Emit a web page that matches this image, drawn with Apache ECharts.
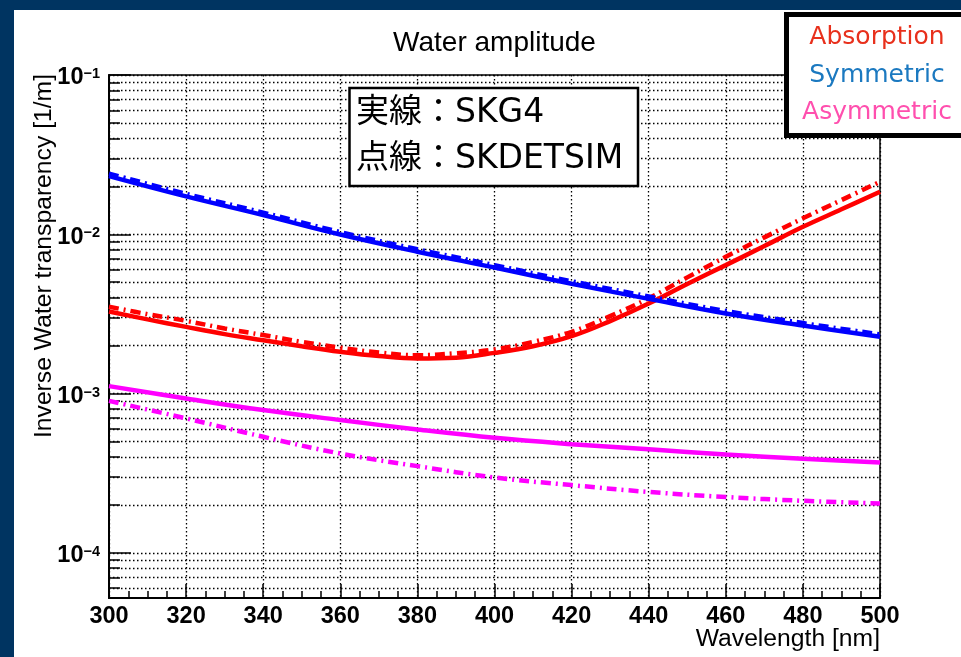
<!DOCTYPE html>
<html>
<head>
<meta charset="utf-8">
<script src="https://cdn.jsdelivr.net/npm/echarts@6/dist/echarts.min.js"></script>
<style>
  html, body { margin: 0; padding: 0; width: 961px; height: 657px; overflow: hidden; background: #003461; }
  #panel { position: absolute; left: 14px; top: 10px; width: 947px; height: 647px; background: #ffffff; }
  #chart { position: absolute; left: 0; top: 0; width: 961px; height: 657px; }
</style>
</head>
<body>
<div id="panel"></div>
<div id="chart"></div>
<script>
// Wavelength samples [nm]
const wl10 = [300, 310, 320, 330, 340, 350, 360, 370, 380, 390, 400, 410, 420, 430, 440, 450, 460, 470, 480, 490, 500];
const wl20 = [300, 320, 340, 360, 380, 400, 420, 440, 460, 480, 500];

// Inverse water transparency [1/m]; SKG4 = solid, SKDETSIM = dash-dot
const absorptionSKG4 = [0.00327, 0.00292, 0.00262, 0.00236, 0.00216, 0.00198, 0.00183, 0.00172, 0.00166, 0.00168, 0.00180,
                        0.00198, 0.00229, 0.00285, 0.00367, 0.00487, 0.00640, 0.00843, 0.01114, 0.01434, 0.01849];
const absorptionSKDETSIM = [0.00351, 0.00315, 0.00286, 0.00256, 0.00233, 0.00211, 0.00194, 0.00181, 0.00174, 0.00179, 0.00189,
                            0.00211, 0.00244, 0.00306, 0.00396, 0.00536, 0.00722, 0.00956, 0.01259, 0.01640, 0.02137];
const symmetricSKG4 = [0.02320, 0.01730, 0.01320, 0.00996, 0.00777, 0.00618, 0.00489, 0.00393, 0.00318, 0.00267, 0.00227];
const symmetricSKDETSIM = [0.02405, 0.01794, 0.01368, 0.01032, 0.00805, 0.00640, 0.00507, 0.00407, 0.00330, 0.00277, 0.00235];
const asymmetricSKG4 = [0.001113, 0.000931, 0.000787, 0.000681, 0.000595, 0.000527, 0.000481, 0.000446, 0.000414, 0.000389, 0.000369];
const asymmetricSKDETSIM = [0.000899, 0.000698, 0.000535, 0.000420, 0.000350, 0.000297, 0.000266, 0.000241, 0.000224, 0.000212, 0.000204];

// Axis ranges and tick definitions
const xRange = [300, 500];
const yRange = [5.2e-5, 0.1];
const yLabelDecades = [-4, -3, -2, -1];          // labelled powers of ten
const yMinorDecades = [-5, -4, -3, -2];          // decades holding minor ticks
const yMinorMantissas = [2, 3, 4, 5, 6, 7, 8, 9];

const legendNames = ['Absorption', 'Symmetric', 'Asymmetric'];
const legendColors = ['#e8301c', '#1b79c0', '#ff4fae'];
const noteLines = ['実線：SKG4', '点線：SKDETSIM'];

const logLo = Math.log10(yRange[0]);
const logHi = Math.log10(yRange[1]);
const minorTicks = [];
yMinorDecades.forEach(function (d) {
  yMinorMantissas.forEach(function (m) {
    const v = d + Math.log10(m);
    if (v >= logLo && v <= logHi) minorTicks.push(v);
  });
});

const dotted = { color: '#000', width: 1.3, type: [1.5, 2.5] };
const tickFont = { fontFamily: 'Liberation Sans', fontWeight: 'bold', color: '#000' };

function curve(name, xs, ys, color, dashed) {
  return {
    type: 'line', name: name, xAxisIndex: 0, yAxisIndex: 0,
    data: xs.map(function (x, i) { return [x, ys[i]]; }),
    smooth: 0.4, symbol: 'none', silent: true, z: 5,
    lineStyle: { color: color, width: 4.5, type: dashed ? [10, 5, 2, 5] : 'solid', cap: 'butt' }
  };
}

const chart = echarts.init(document.getElementById('chart'), null, { renderer: 'canvas' });
chart.setOption({
  animation: false,
  backgroundColor: 'transparent',
  grid: { left: 109, top: 75, right: 81, bottom: 59, show: true, borderColor: '#000', borderWidth: 1.5, backgroundColor: 'transparent' },
  xAxis: {
    type: 'value', min: xRange[0], max: xRange[1], interval: 20,
    axisLine: { show: true, onZero: false, lineStyle: { color: '#000', width: 2 } },
    axisTick: { show: true, inside: true, length: 14, lineStyle: { color: '#000', width: 1.5 } },
    minorTick: { show: true, splitNumber: 4, length: 7, lineStyle: { color: '#000', width: 1.5 } },
    splitLine: { show: true, lineStyle: dotted },
    axisLabel: Object.assign({ fontSize: 23.5, margin: 7 }, tickFont)
  },
  yAxis: [
    {
      type: 'log', logBase: 10, min: yRange[0], max: yRange[1], position: 'left',
      axisLine: { show: true, onZero: false, lineStyle: { color: '#000', width: 2 } },
      axisTick: { show: false }, axisLabel: { show: false }, splitLine: { show: false }
    },
    {
      type: 'value', min: logLo, max: logHi, position: 'left',
      axisLine: { show: false, onZero: false },
      axisTick: { show: true, inside: true, length: 22, customValues: yLabelDecades, lineStyle: { color: '#000', width: 1.5 } },
      splitLine: { show: true, lineStyle: dotted },
      axisLabel: {
        show: true, margin: 9, customValues: yLabelDecades, padding: [6, 0, 0, 0],
        formatter: function (v) { return '{b|10}{e|−' + Math.round(-v) + '}'; },
        rich: {
          b: Object.assign({ fontSize: 23.5, lineHeight: 23 }, tickFont),
          e: Object.assign({ fontSize: 14.5, lineHeight: 14, verticalAlign: 'top' }, tickFont)
        }
      }
    },
    {
      type: 'value', min: logLo, max: logHi, position: 'left',
      axisLine: { show: false, onZero: false },
      axisTick: { show: true, inside: true, length: 11, customValues: minorTicks, lineStyle: { color: '#000', width: 1.5 } },
      splitLine: { show: true, lineStyle: dotted },
      axisLabel: { show: false }
    }
  ],
  series: [
    curve('Absorption SKG4', wl10, absorptionSKG4, '#ff0000', false),
    curve('Absorption SKDETSIM', wl10, absorptionSKDETSIM, '#ff0000', true),
    curve('Symmetric SKG4', wl20, symmetricSKG4, '#0000ff', false),
    curve('Symmetric SKDETSIM', wl20, symmetricSKDETSIM, '#0000ff', true),
    curve('Asymmetric SKG4', wl20, asymmetricSKG4, '#ff00ff', false),
    curve('Asymmetric SKDETSIM', wl20, asymmetricSKDETSIM, '#ff00ff', true)
  ],
  graphic: [
    { type: 'text', x: 494.5, y: 43, z: 100, silent: true,
      style: { text: 'Water amplitude', fontFamily: 'Liberation Sans', fontSize: 28, fill: '#000', align: 'center', verticalAlign: 'middle' } },
    { type: 'text', x: 880, y: 639, z: 100, silent: true,
      style: { text: 'Wavelength [nm]', fontFamily: 'Liberation Sans', fontSize: 24.7, fill: '#000', align: 'right', verticalAlign: 'middle' } },
    { type: 'text', x: 44.3, y: 74, rotation: Math.PI / 2, z: 100, silent: true,
      style: { text: 'Inverse Water transparency [1/m]', fontFamily: 'Liberation Sans', fontSize: 24.7, fill: '#000', align: 'right', verticalAlign: 'middle' } },
    { type: 'group', z: 100, silent: true, children: [
      { type: 'rect', shape: { x: 349.5, y: 88, width: 288.5, height: 98 }, z: 100,
        style: { fill: '#fff', stroke: '#000', lineWidth: 2.5 } },
      { type: 'text', x: 356, y: 113, z: 101,
        style: { text: noteLines[0], fontFamily: "'DejaVu Sans', 'Noto Sans CJK JP'", fontSize: 33, fill: '#000', align: 'left', verticalAlign: 'middle' } },
      { type: 'text', x: 356, y: 159, z: 101,
        style: { text: noteLines[1], fontFamily: "'DejaVu Sans', 'Noto Sans CJK JP'", fontSize: 33, fill: '#000', align: 'left', verticalAlign: 'middle' } }
    ] },
    { type: 'group', z: 100, silent: true, children: [
      { type: 'rect', shape: { x: 786.5, y: 14.5, width: 200, height: 121 }, z: 100,
        style: { fill: '#fff', stroke: '#000', lineWidth: 5 } }
    ].concat(legendNames.map(function (n, i) {
      return { type: 'text', x: 877, y: [37.5, 75, 112][i], z: 101,
        style: { text: n, fontFamily: 'DejaVu Sans', fontSize: 25, fill: legendColors[i], align: 'center', verticalAlign: 'middle' } };
    })) }
  ]
});
</script>
</body>
</html>
